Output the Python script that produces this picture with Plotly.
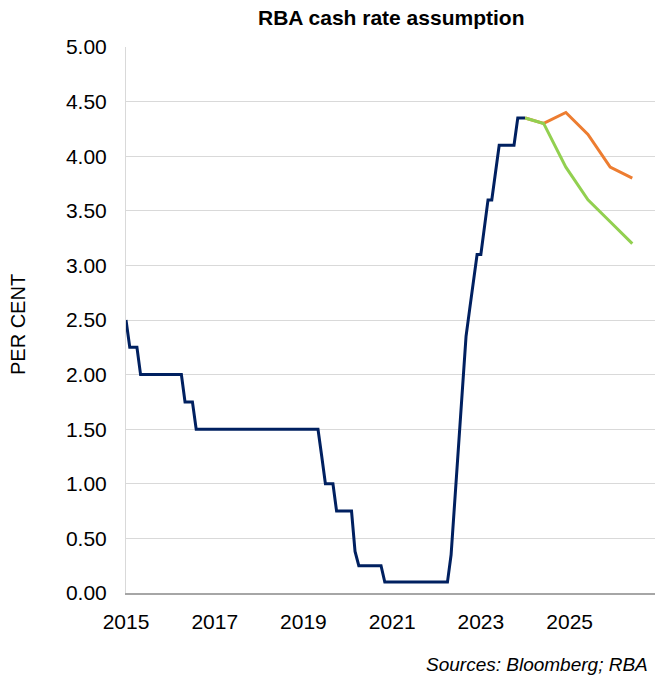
import pandas as pd
import plotly.graph_objects as go

# Monthly RBA cash rate target, Jan 2015 - Jan 2024 (per cent)
cash_rate = (
    [2.50, 2.25, 2.25, 2.25] + [2.00] * 8            # 2015
    + [2.00] * 4 + [1.75] * 3 + [1.50] * 5           # 2016
    + [1.50] * 12                                    # 2017
    + [1.50] * 12                                    # 2018
    + [1.50] * 5 + [1.25] + [1.00] * 3 + [0.75] * 3  # 2019
    + [0.75] * 2 + [0.38] + [0.25] * 7 + [0.10] * 2  # 2020
    + [0.10] * 12                                    # 2021
    + [0.10] * 4 + [0.35, 0.85, 1.35, 1.85, 2.35, 2.60, 2.85, 3.10]  # 2022
    + [3.10, 3.35, 3.60, 3.60, 3.85] + [4.10] * 5 + [4.35] * 2        # 2023
    + [4.35]                                         # Jan 2024
)
cash_dates = pd.date_range("2015-01-01", periods=len(cash_rate), freq="MS")

# Forward-looking assumptions
fcst_dates = ["2024-01-01", "2024-06-01", "2024-12-01",
              "2025-06-01", "2025-12-01", "2026-06-01"]
fcst_orange = [4.35, 4.30, 4.40, 4.20, 3.90, 3.80]
fcst_green = [4.35, 4.30, 3.90, 3.60, 3.40, 3.20]

y_ticks = [0.0, 0.5, 1.0, 1.5, 2.0, 2.5, 3.0, 3.5, 4.0, 4.5, 5.0]

FONT = "Liberation Sans, Arial, sans-serif"

fig = go.Figure()
fig.add_trace(go.Scatter(x=cash_dates, y=cash_rate, mode="lines",
                         line=dict(color="#002060", width=3), hoverinfo="skip"))
fig.add_trace(go.Scatter(x=fcst_dates, y=fcst_orange, mode="lines",
                         line=dict(color="#ED7D31", width=3), hoverinfo="skip"))
fig.add_trace(go.Scatter(x=fcst_dates, y=fcst_green, mode="lines",
                         line=dict(color="#92D050", width=3), hoverinfo="skip"))

W, H = 655, 677
L, R, T, B = 126, 0, 47, 84
pw, ph = W - L - R, H - T - B

fig.update_layout(
    width=W, height=H,
    margin=dict(l=L, r=R, t=T, b=B),
    paper_bgcolor="white", plot_bgcolor="white",
    showlegend=False,
    font=dict(family=FONT, size=21, color="#000000"),
    xaxis=dict(
        type="date",
        range=["2015-01-01", "2026-12-05"],
        tick0="2015-01-01", dtick="M24", tickformat="%Y",
        showgrid=False, zeroline=False,
        showline=True, linecolor="#a6a6a6", linewidth=1.5,
        ticks="", ticklabelstandoff=9,
        tickfont=dict(size=21, color="#000000"),
    ),
    yaxis=dict(
        range=[0, 5], tickvals=y_ticks, tickformat=".2f",
        showgrid=True, gridcolor="#d9d9d9", gridwidth=1,
        zeroline=False,
        showline=True, linecolor="#d9d9d9", linewidth=1,
        ticks="", ticklabelstandoff=14,
        tickfont=dict(size=21, color="#000000"),
    ),
    annotations=[
        dict(text="<b>RBA cash rate assumption</b>", xref="paper", yref="paper",
             x=0.5, y=1 + (T - 18) / ph, xanchor="center", yanchor="middle",
             showarrow=False, font=dict(family=FONT, size=21, color="#000000")),
        dict(text="PER CENT", xref="paper", yref="paper",
             x=(18 - L) / pw, y=(593 - 325) / ph, xanchor="center", yanchor="middle",
             textangle=-90, showarrow=False,
             font=dict(family=FONT, size=20, color="#000000")),
        dict(text="<i>Sources: Bloomberg; RBA</i>", xref="paper", yref="paper",
             x=(650 - L) / pw, y=(593 - 664) / ph, xanchor="right", yanchor="middle",
             showarrow=False, font=dict(family=FONT, size=19, color="#000000")),
    ],
)

fig.write_html("out.html")
